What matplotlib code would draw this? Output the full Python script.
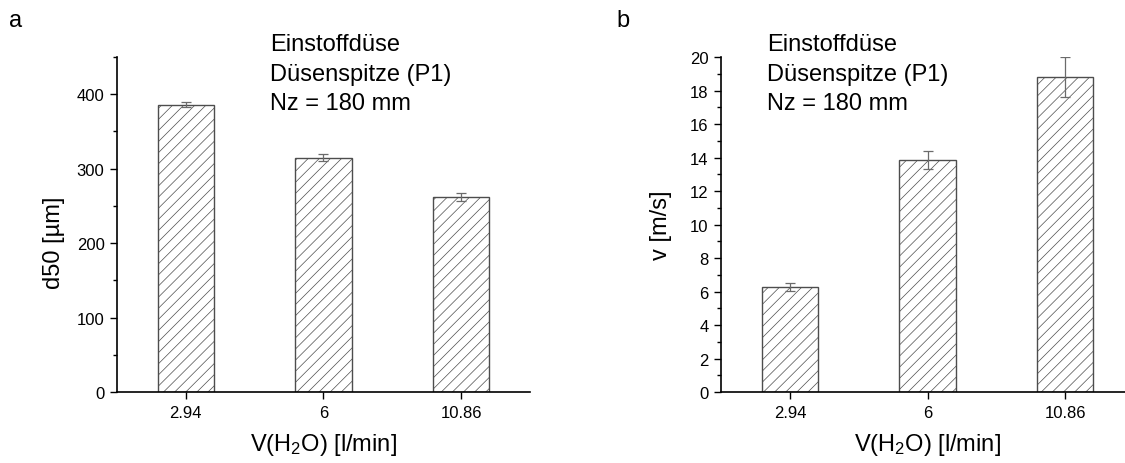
import numpy as np
import matplotlib
matplotlib.use('Agg')
import matplotlib.pyplot as plt

plt.rcParams['font.family'] = ['Liberation Sans', 'DejaVu Sans']
plt.rcParams['mathtext.fontset'] = 'custom'
plt.rcParams['mathtext.rm'] = 'Liberation Sans'
plt.rcParams['mathtext.it'] = 'Liberation Sans:italic'
plt.rcParams['hatch.linewidth'] = 0.5

# flow rates (categories)
flow = ['2.94', '6', '10.86']

# panel a: d50 [um]
d50 = [386, 315, 262]
d50_err = [3.5, 4.5, 5]

# panel b: velocity [m/s]
vel = [6.25, 13.85, 18.8]
vel_err = [0.23, 0.55, 1.2]

note = 'Einstoffdüse\nDüsenspitze (P1)\nNz = 180 mm'

fig = plt.figure(figsize=(11.25, 4.64), dpi=100)
ax1 = fig.add_axes([0.104, 0.153, 0.367, 0.722])
ax2 = fig.add_axes([0.641, 0.153, 0.367, 0.722])

def draw(ax, vals, errs, ylim, major, minor, ylabel, ly):
	x = np.arange(len(flow))
	ax.bar(x, vals, width=0.41, color='white', edgecolor='#4d4d4d',
		hatch='///', linewidth=1.0, zorder=2)
	ax.errorbar(x, vals, yerr=errs, fmt='none', ecolor='#6b6b6b',
		elinewidth=0.9, capsize=3.5, capthick=0.9, zorder=3)
	ax.set_xlim(-0.5, 2.5)
	ax.set_ylim(*ylim)
	ax.set_xticks(x)
	ax.set_xticklabels(flow)
	ax.set_yticks(np.arange(0, ylim[1] + 0.01, major))
	ax.set_yticks(np.arange(0, ylim[1] + 0.01, minor), minor=True)
	for s in ['top', 'right']:
		ax.spines[s].set_visible(False)
	ax.spines['left'].set_linewidth(1.2)
	ax.spines['bottom'].set_linewidth(1.2)
	ax.tick_params(axis='both', which='major', direction='out', length=5,
		width=1.0, labelsize=12, pad=4)
	ax.tick_params(axis='y', which='minor', direction='out', length=3, width=1.0)
	ax.set_xlabel('V(H$_2$O) [l/min]', fontsize=17, labelpad=8)
	ax.set_ylabel(ylabel, fontsize=17)
	ax.yaxis.set_label_coords(*ly)

draw(ax1, d50, d50_err, (0, 450), 100, 50, 'd50 [\u00b5m]', (-0.126, 0.448))
draw(ax2, vel, vel_err, (0, 20), 2, 1, 'v [m/s]', (-0.119, 0.50))

fig.text(0.240, 0.926, note, fontsize=17, va='top', ha='left', linespacing=1.44)
fig.text(0.682, 0.926, note, fontsize=17, va='top', ha='left', linespacing=1.44)
fig.text(0.008, 0.955, 'a', fontsize=17, va='center', ha='left')
fig.text(0.548, 0.955, 'b', fontsize=17, va='center', ha='left')

plt.savefig('out.png', dpi=100)
